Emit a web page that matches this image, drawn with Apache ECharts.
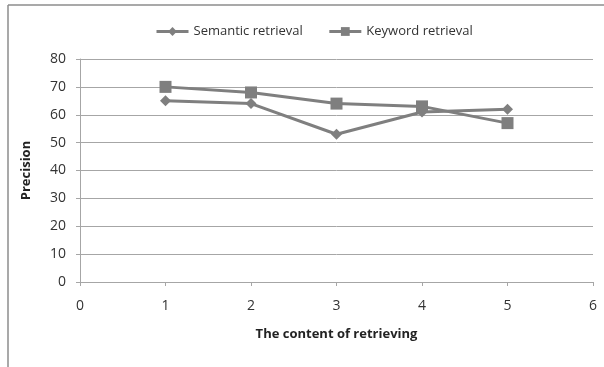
<!DOCTYPE html>
<html>
<head>
<meta charset="utf-8">
<script src="https://cdn.jsdelivr.net/npm/echarts@6/dist/echarts.min.js"></script>
<style>
  html, body { margin: 0; padding: 0; background: #fff; }
  #chart { width: 604px; height: 367px; }
</style>
</head>
<body>
<div id="chart"></div>
<script>
// values
var xValues = [1, 2, 3, 4, 5];
var semantic = [65, 64, 53, 61, 62];
var keyword = [70, 68, 64, 63, 57];

function pairs(ys) {
    return xValues.map(function (x, i) { return [x, ys[i]]; });
}

var myChart = echarts.init(document.getElementById('chart'));
var font = '"Open Sans", "Noto Sans", sans-serif';

var option = {
    animation: false,
    textStyle: { fontFamily: font },
    graphic: [
        // outer frame (top and left edges visible)
        { type: 'line', shape: { x1: 8, y1: 5, x2: 604, y2: 5 }, style: { stroke: '#8c8c8c', lineWidth: 1.5 } },
        { type: 'line', shape: { x1: 8, y1: 5, x2: 8, y2: 367 }, style: { stroke: '#8c8c8c', lineWidth: 1.5 } }
    ],
    legend: {
        top: 20,
        left: 150,
        itemGap: 25,
        itemWidth: 32,
        itemHeight: 11,
        lineStyle: { width: 3 },
        textStyle: { fontFamily: font, fontSize: 13, color: '#333' },
        data: ['Semantic retrieval', 'Keyword retrieval']
    },
    grid: { left: 80, right: 11, top: 59, bottom: 85 },
    xAxis: {
        type: 'value',
        min: 0, max: 6, interval: 1,
        name: 'The content of retrieving',
        nameLocation: 'middle',
        nameGap: 46,
        nameTextStyle: { fontFamily: font, fontSize: 13, fontWeight: 'bold', color: '#222' },
        axisLine: { lineStyle: { color: '#a6a6a6' } },
        axisTick: { show: true, length: 4, lineStyle: { color: '#a6a6a6' } },
        axisLabel: { fontFamily: font, fontSize: 14, color: '#333', margin: 17 },
        splitLine: { show: false }
    },
    yAxis: {
        type: 'value',
        min: 0, max: 80, interval: 10,
        name: 'Precision',
        nameLocation: 'middle',
        nameGap: 47,
        nameTextStyle: { fontFamily: font, fontSize: 13, fontWeight: 'bold', color: '#222' },
        axisLine: { show: true, lineStyle: { color: '#a6a6a6' } },
        axisTick: { show: true, length: 4, lineStyle: { color: '#a6a6a6' } },
        axisLabel: { fontFamily: font, fontSize: 14, color: '#333', margin: 14 },
        splitLine: { lineStyle: { color: '#a6a6a6' } }
    },
    series: [
        {
            name: 'Semantic retrieval',
            type: 'line',
            data: pairs(semantic),
            symbol: 'diamond',
            symbolSize: 11,
            itemStyle: { color: '#7f7f7f' },
            lineStyle: { color: '#7f7f7f', width: 3 }
        },
        {
            name: 'Keyword retrieval',
            type: 'line',
            data: pairs(keyword),
            symbol: 'rect',
            symbolSize: 12,
            itemStyle: { color: '#7f7f7f' },
            lineStyle: { color: '#7f7f7f', width: 3 }
        }
    ]
};

myChart.setOption(option, true);
</script>
</body>
</html>
